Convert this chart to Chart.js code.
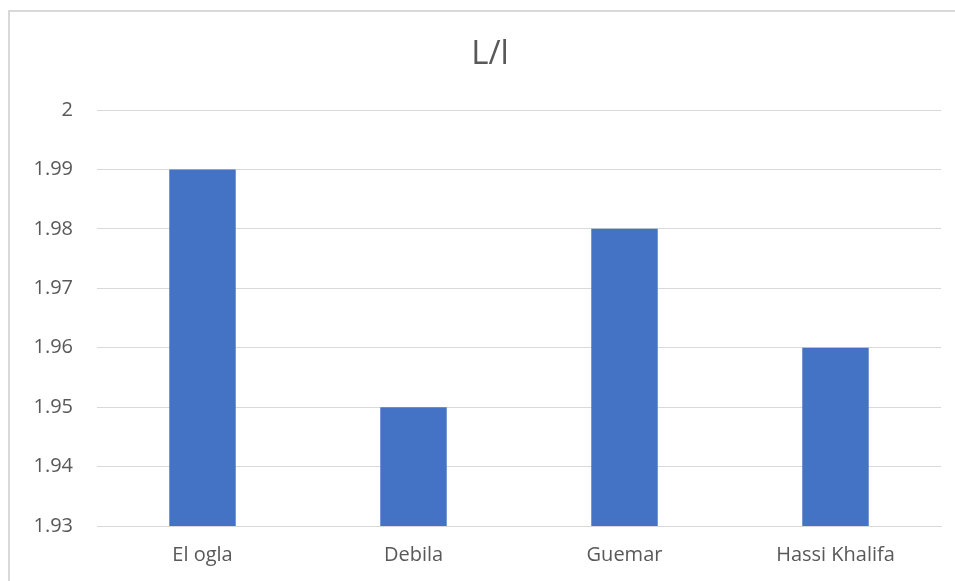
<!DOCTYPE html>
<html>
<head>
<meta charset="utf-8">
<script src="https://cdn.jsdelivr.net/npm/chart.js@4"></script>
<style>
  html, body { margin: 0; padding: 0; background: #fff; }
  #wrap { width: 955px; height: 581px; position: relative; }
</style>
</head>
<body>
<div id="wrap"><canvas id="c" width="955" height="581"></canvas></div>
<script>
const categories = ['El ogla', 'Debila', 'Guemar', 'Hassi Khalifa'];
const ratioValues = [1.99, 1.95, 1.98, 1.96];
const yTicks = [1.93, 1.94, 1.95, 1.96, 1.97, 1.98, 1.99, 2];
const chartTitle = 'L/l';

const textGray = '#595959';
const gridGray = '#d9d9d9';
const fontFamily = "'Open Sans', 'Liberation Sans', sans-serif";

// Frame around the chart plus the centred title
const framePlugin = {
  id: 'frame',
  beforeDraw(chart) {
    const ctx = chart.ctx;
    ctx.save();
    ctx.fillStyle = '#fff';
    ctx.fillRect(0, 0, chart.width, chart.height);
    ctx.strokeStyle = '#d9d9d9';
    ctx.lineWidth = 2;
    ctx.strokeRect(9, 11, chart.width + 20, chart.height + 20);
    ctx.restore();
  },
  afterDraw(chart) {
    const ctx = chart.ctx;
    ctx.save();
    ctx.fillStyle = textGray;
    ctx.font = "33px " + fontFamily;
    ctx.textAlign = 'center';
    ctx.textBaseline = 'middle';
    ctx.fillText(chartTitle, 490, 55);
    ctx.restore();
  }
};

new Chart(document.getElementById('c'), {
  type: 'bar',
  data: {
    labels: categories,
    datasets: [{
      label: chartTitle,
      data: ratioValues,
      backgroundColor: '#4472c4',
      borderWidth: 0,
      barPercentage: 0.63,
      categoryPercentage: 0.5
    }]
  },
  options: {
    responsive: false,
    animation: false,
    layout: { padding: { left: 0, right: 14, top: 110, bottom: 0 } },
    plugins: {
      legend: { display: false },
      title: { display: false },
      tooltip: { enabled: false }
    },
    scales: {
      x: {
        grid: { display: false, drawTicks: false },
        border: { display: true, color: gridGray, width: 1 },
        ticks: { color: textGray, font: { family: fontFamily, size: 20 }, padding: 17 },
        afterFit(scale) { scale.height = 55; }
      },
      y: {
        min: 1.93,
        max: 2,
        afterBuildTicks(scale) { scale.ticks = yTicks.map(v => ({ value: v })); },
        grid: { color: gridGray, lineWidth: 1, drawTicks: false },
        border: { display: false },
        ticks: {
          color: textGray,
          font: { family: fontFamily, size: 20 },
          padding: 24,
          callback: v => String(+v.toFixed(2))
        },
        afterFit(scale) { scale.width = 97; }
      }
    }
  },
  plugins: [framePlugin]
});
</script>
</body>
</html>
